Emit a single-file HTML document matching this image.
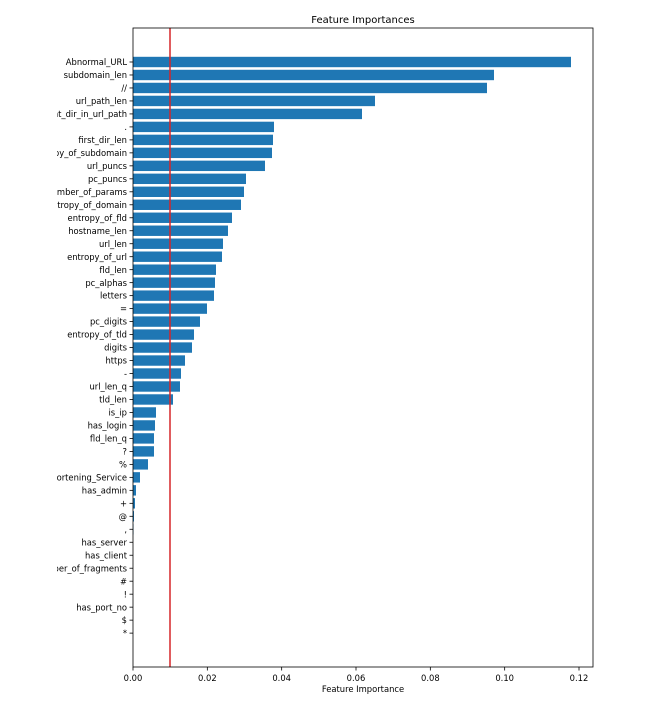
<!DOCTYPE html>
<html><head><style>html,body{margin:0;padding:0;background:#fff}</style></head><body>
<svg width="666" height="701" xmlns="http://www.w3.org/2000/svg" font-family="DejaVu Sans, Liberation Sans, sans-serif" font-size="8.4">
<defs><clipPath id="c"><rect x="57" y="0" width="640" height="701"/></clipPath></defs>
<text x="363" y="23" text-anchor="middle" font-size="10">Feature Importances</text>
<g id="bars" fill="#1f77b4"></g>
<g id="labels" clip-path="url(#c)" text-anchor="end"></g>
<line x1="170" y1="28" x2="170" y2="667" stroke="#d62728" stroke-width="1.5"/>
<rect x="133" y="28" width="460" height="639" fill="none" stroke="#000" stroke-width="0.8"/>
<g id="xt" text-anchor="middle"></g>
<text x="363" y="692" text-anchor="middle">Feature Importance</text>
</svg>
<script>
var d=[["Abnormal_URL",571],["subdomain_len",494],["//",487],["url_path_len",375],["count_dir_in_url_path",362],[".",274],["first_dir_len",273],["entropy_of_subdomain",272],["url_puncs",265],["pc_puncs",246],["number_of_params",244],["entropy_of_domain",241],["entropy_of_fld",232],["hostname_len",228],["url_len",223],["entropy_of_url",222],["fld_len",216],["pc_alphas",215],["letters",214],["=",207],["pc_digits",200],["entropy_of_tld",194],["digits",192],["https",185],["-",181],["url_len_q",180],["tld_len",173],["is_ip",156],["has_login",155],["fld_len_q",154],["?",154],["%",148],["URL_Shortening_Service",140],["has_admin",136],["+",135],["@",134],[",",133.5],["has_server",133],["has_client",133],["number_of_fragments",133],["#",133],["!",133],["has_port_no",133],["$",133],["*",133]];
var ns="http://www.w3.org/2000/svg",b=document.getElementById("bars"),l=document.getElementById("labels");
d.forEach(function(e,i){var y=62+i*12.98;
var r=document.createElementNS(ns,"rect");r.setAttribute("x",133);r.setAttribute("y",y-5.2);r.setAttribute("width",Math.max(0,e[1]-133));r.setAttribute("height",10.4);b.appendChild(r);
var t=document.createElementNS(ns,"line");t.setAttribute("x1",129.5);t.setAttribute("x2",133);t.setAttribute("y1",y);t.setAttribute("y2",y);t.setAttribute("stroke","#000");t.setAttribute("stroke-width","0.8");l.appendChild(t);
var s=document.createElementNS(ns,"text");s.setAttribute("x",127);s.setAttribute("y",y+3.1);s.textContent=e[0];l.appendChild(s);});
var xt=document.getElementById("xt");
for(var k=0;k<=6;k++){var x=133+k*0.02*3716.7;
var t=document.createElementNS(ns,"line");t.setAttribute("x1",x);t.setAttribute("x2",x);t.setAttribute("y1",667);t.setAttribute("y2",670.5);t.setAttribute("stroke","#000");t.setAttribute("stroke-width","0.8");xt.appendChild(t);
var s=document.createElementNS(ns,"text");s.setAttribute("x",x);s.setAttribute("y",681);s.textContent=(k*0.02).toFixed(2);xt.appendChild(s);}
</script>
</body></html>
